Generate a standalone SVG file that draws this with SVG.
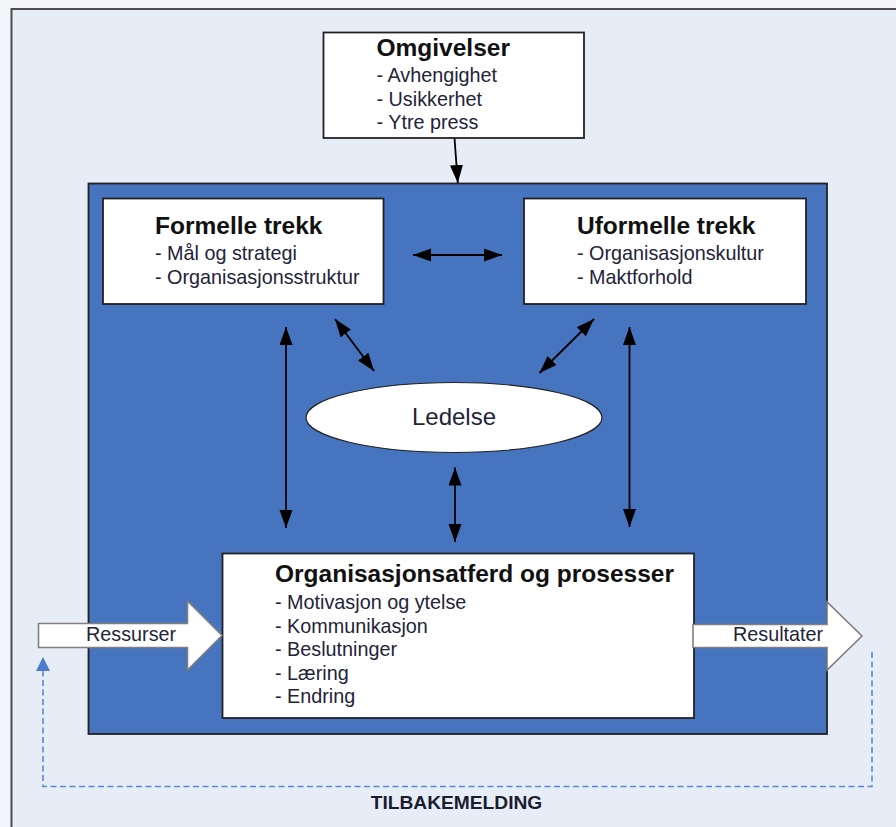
<svg xmlns="http://www.w3.org/2000/svg" width="896" height="827" viewBox="0 0 896 827">
<style>
.box{fill:#fff;stroke:#222;stroke-width:1.8}
.h{font-family:"Liberation Sans",Arial,sans-serif;font-weight:bold;font-size:24.5px;fill:#111}
.t{font-family:"Liberation Sans",Arial,sans-serif;font-size:19.8px;fill:#23233a}
.con{stroke:#000;stroke-width:1.8;fill:none}
.big{fill:#fff;stroke:#7f7f7f;stroke-width:1.6}
</style>
<defs>
<marker id="ah" markerUnits="userSpaceOnUse" markerWidth="19" markerHeight="14" refX="18" refY="6.5" orient="auto-start-reverse">
<path d="M0,0 L18,6.5 L0,13 z" fill="#000"/>
</marker>
</defs>
<rect x="0" y="0" width="896" height="827" fill="#f4f5f8"/>
<rect x="11.5" y="9" width="900" height="830" fill="#e7edf7" stroke="#4d4d4d" stroke-width="2"/>
<g id="blue-frame">
<rect x="88.5" y="183.5" width="738.5" height="550.5" fill="#4674bf" stroke="#222" stroke-width="1.8"/>
</g>
<g id="omgivelser">
<rect class="box" x="323.5" y="32.5" width="260.5" height="105.5"/>
<text class="h" x="376.5" y="56">Omgivelser</text>
<text class="t" x="376.5" y="82">- Avhengighet</text>
<text class="t" x="376.5" y="105.5">- Usikkerhet</text>
<text class="t" x="376.5" y="129">- Ytre press</text>
</g>
<g id="formelle">
<rect class="box" x="103" y="198.5" width="280.5" height="105.5"/>
<text class="h" x="155" y="234">Formelle trekk</text>
<text class="t" x="155" y="260">- Mål og strategi</text>
<text class="t" x="155" y="283.5">- Organisasjonsstruktur</text>
</g>
<g id="uformelle">
<rect class="box" x="524" y="198.5" width="282" height="105.5"/>
<text class="h" x="577" y="234">Uformelle trekk</text>
<text class="t" x="577" y="260">- Organisasjonskultur</text>
<text class="t" x="577" y="283.5">- Maktforhold</text>
</g>
<g id="ledelse">
<ellipse cx="454" cy="417.5" rx="148" ry="35" fill="#fff" stroke="#222" stroke-width="1.2"/>
<text x="454" y="424.5" text-anchor="middle" font-family="'Liberation Sans',Arial,sans-serif" font-size="24px" fill="#23233a">Ledelse</text>
</g>
<g id="prosesser">
<rect class="box" x="222.5" y="553.5" width="471.5" height="164.5"/>
<text class="h" x="275" y="582">Organisasjonsatferd og prosesser</text>
<text class="t" x="275" y="609">- Motivasjon og ytelse</text>
<text class="t" x="275" y="632.5">- Kommunikasjon</text>
<text class="t" x="275" y="656">- Beslutninger</text>
<text class="t" x="275" y="680">- Læring</text>
<text class="t" x="275" y="703">- Endring</text>
</g>
<g id="ressurser">
<polygon class="big" points="38.5,623.5 187.5,623.5 187.5,601 222,635.5 187.5,670 187.5,647.5 38.5,647.5"/>
<text class="t" x="86" y="641" fill="#222">Ressurser</text>
</g>
<g id="resultater">
<polygon class="big" points="693,624.5 827,624.5 827,602 862,636 827,670 827,647.5 693,647.5"/>
<text class="t" x="733" y="641" fill="#222">Resultater</text>
</g>
<g id="connectors">
<line class="con" x1="454.5" y1="138" x2="457.8" y2="183" stroke-width="1.3" marker-end="url(#ah)"/>
<line class="con" x1="413" y1="255" x2="502" y2="255" marker-start="url(#ah)" marker-end="url(#ah)"/>
<line class="con" x1="286" y1="327" x2="286" y2="528" marker-start="url(#ah)" marker-end="url(#ah)"/>
<line class="con" x1="629.5" y1="327" x2="629.5" y2="527" marker-start="url(#ah)" marker-end="url(#ah)"/>
<line class="con" x1="335" y1="319" x2="374" y2="371" stroke-width="1.4" marker-start="url(#ah)" marker-end="url(#ah)"/>
<line class="con" x1="594" y1="319" x2="539.5" y2="373" stroke-width="1.4" marker-start="url(#ah)" marker-end="url(#ah)"/>
<line class="con" x1="455" y1="467.5" x2="455" y2="542" marker-start="url(#ah)" marker-end="url(#ah)"/>
<path d="M872,652 V786.5 H43 V670" fill="none" stroke="#5b87d4" stroke-width="1.6" stroke-dasharray="6,3.5"/>
<polygon points="36,671 43,657 50,671" fill="#4a7bd0"/>
</g>
<text x="456.5" y="809" text-anchor="middle" font-family="'Liberation Sans',Arial,sans-serif" font-weight="bold" font-size="19.2px" fill="#1c1c30">TILBAKEMELDING</text>
</svg>
